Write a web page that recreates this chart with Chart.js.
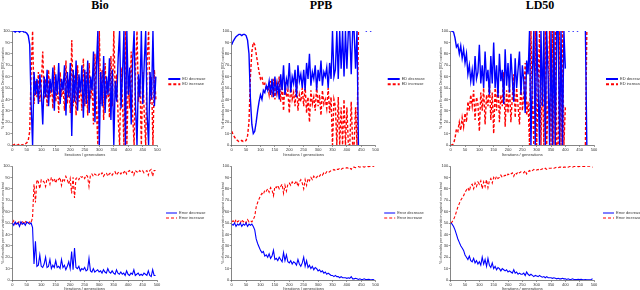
<!DOCTYPE html>
<html>
<head>
<meta charset="utf-8">
<script src="https://cdn.jsdelivr.net/npm/chart.js@4.4.1/dist/chart.umd.min.js"></script>
<style>
  html, body { margin: 0; padding: 0; background: #fff; width: 640px; height: 290px; overflow: hidden; position: relative; }
  canvas { position: absolute; }
  .ttl { position: absolute; top: -1px; font: bold 12px/12px "Liberation Serif", "Times New Roman", serif; color: #000; transform: translateX(-50%); white-space: nowrap; }
</style>
</head>
<body>
<div class="ttl" style="left:100px">Bio</div>
<div class="ttl" style="left:321px">PPB</div>
<div class="ttl" style="left:540px">LD50</div>
<canvas id="bioTop"></canvas>
<canvas id="ppbTop"></canvas>
<canvas id="ld50Top"></canvas>
<canvas id="bioBot"></canvas>
<canvas id="ppbBot"></canvas>
<canvas id="ld50Bot"></canvas>
<script>
// one value every 5 iterations (0 .. 495)
const STEP = 5;

const topLegend = ["ED decrease", "ED increase"];
const botLegend = ["Error decrease", "Error increase"];
const topYTitle = "% of models per Ensemble Deviation (ED) variation";
const botYTitle = "% of models per error variation against no-ens best";
const xTitle = "Iterations / generations";

// --- top row: ED variation ---
const bioEdDec = [
  100,100,99,100,100,99,100,100,99,99,
  98,96,88,35,0,64,44,58,36,62,
  46,18,60,42,66,34,58,46,68,30,
  62,44,72,36,58,48,70,26,64,42,
  72,8,66,38,74,30,62,46,70,24,
  66,36,74,28,60,48,82,20,68,100,
  0,64,34,78,28,60,44,76,22,66,
  0,56,38,76,100,32,62,100,0,100,
  44,68,18,74,100,34,0,62,42,100,
  36,72,100,26,0,64,40,100,34,60
];
const bioEdInc = [
  0,0,1,0,0,1,0,0,1,1,
  2,4,12,65,100,36,56,42,64,38,
  54,82,40,58,34,66,42,54,32,70,
  38,56,28,64,42,52,30,74,36,58,
  28,92,34,62,26,70,38,54,30,76,
  34,64,26,72,40,52,18,80,32,0,
  100,36,66,22,72,40,56,24,78,34,
  100,44,62,24,0,68,38,0,100,0,
  56,32,82,26,0,66,100,38,58,0,
  64,28,0,74,100,36,60,0,66,40
];
const ppbEdDec = [
  88,91,93,95,96,97,97,96,97,97,
  96,92,80,40,18,10,12,20,30,38,
  44,40,48,46,52,48,56,44,58,42,
  60,46,54,40,62,48,70,44,58,52,
  72,46,60,54,66,42,70,56,62,50,
  66,48,72,58,80,52,64,58,70,48,
  66,56,74,52,64,60,68,50,72,58,
  100,60,66,100,58,100,67,100,60,100,
  67,100,100,62,100,100,67,100,0,null,
  null,null,null,100,100,null,100,100,null,null
];
const ppbEdInc = [
  12,9,7,5,4,3,3,4,3,3,
  4,8,20,60,82,90,88,80,72,64,
  58,60,52,54,48,52,44,56,42,58,
  40,54,46,60,38,52,30,56,42,48,
  28,54,40,46,34,58,30,44,38,50,
  34,52,28,42,20,48,36,42,30,52,
  34,44,26,48,36,40,32,50,28,42,
  0,40,34,0,42,0,33,0,40,0,
  33,0,0,38,0,0,33,0,100,null,
  null,null,null,null,null,null,null,null,null,null
];
const ld50EdDec = [
  100,100,99,94,86,88,80,87,76,84,
  72,80,62,70,56,66,52,78,58,64,
  88,54,70,50,82,56,66,44,78,54,
  90,50,70,42,80,56,66,36,84,52,
  72,46,80,58,38,76,50,66,82,44,
  70,56,28,74,62,100,0,62,100,0,
  100,50,0,100,34,100,0,100,60,0,
  100,0,100,0,100,100,0,100,0,100,
  67,null,100,100,null,100,100,null,100,100,
  null,null,null,null,100,0,null,null,null,null
];
const ld50EdInc = [
  0,0,1,6,14,12,20,13,24,16,
  28,20,38,30,44,34,48,22,42,36,
  12,46,30,50,18,44,34,56,22,46,
  10,50,30,58,20,44,34,64,16,48,
  28,54,20,42,62,24,50,34,18,56,
  30,44,72,26,38,0,100,38,0,100,
  0,50,100,0,66,0,100,0,40,100,
  0,100,0,100,0,0,100,0,100,0,
  33,null,null,null,null,null,null,null,null,null,
  null,null,null,null,0,100,null,null,null,null
];

// --- bottom row: error variation ---
const bioErrDec = [
  50,48,51,49,50,47,51,49,50,48,
  51,50,49,50,46,14,34,12,13,22,
  12,11,14,20,11,12,18,10,13,11,
  17,11,12,10,18,11,13,9,12,16,
  10,25,9,28,11,10,12,8,10,9,
  11,8,9,19,8,7,10,7,8,9,
  7,8,6,9,7,6,10,7,6,8,
  6,5,9,6,5,7,5,6,4,8,
  5,4,6,5,9,4,5,6,4,5,
  4,6,5,4,8,4,3,9,4,4
];
const bioErrInc = [
  50,52,49,51,50,52,49,51,50,52,
  49,50,51,50,55,84,68,88,86,80,
  88,87,86,82,89,88,84,90,87,89,
  85,89,88,90,83,89,87,91,88,84,
  89,76,90,72,89,90,88,91,90,91,
  89,92,91,82,92,93,91,93,92,91,
  93,92,94,91,93,94,91,93,94,92,
  94,95,92,94,95,93,95,94,96,93,
  95,96,94,95,92,96,95,94,96,95,
  96,94,95,96,92,96,97,91,96,96
];
const ppbErrDec = [
  49,48,50,47,49,48,50,47,49,48,
  50,47,49,48,49,47,44,36,32,29,
  26,24,25,21,22,20,23,19,21,26,
  18,19,17,20,18,16,24,17,22,16,
  15,17,14,16,15,13,18,14,12,15,
  20,12,17,11,13,10,12,9,11,10,
  8,9,7,8,6,7,5,6,5,4,
  4,3,4,3,3,2,3,2,2,2,
  1.5,2,1.5,3,1,1,1.5,1,0.5,1,
  0.5,0.5,1,0.5,0.3,0.5,0.3,0.2,0.3,0.2
];
const ppbErrInc = [
  51,52,50,53,51,52,50,53,51,52,
  50,53,51,52,51,53,56,64,68,71,
  74,76,75,79,78,80,77,81,79,74,
  82,81,83,80,82,84,76,83,78,84,
  85,83,86,84,85,87,82,86,88,85,
  80,88,83,89,87,90,88,91,89,90,
  92,91,93,92,94,93,95,94,95,96,
  96,97,96,97,97,98,97,98,98,98,
  98.5,98,98.5,97,99,99,98.5,99,99.5,99,
  99.5,99.5,99,99.5,99.7,99.5,99.7,99.8,99.7,99.8
];
const ld50ErrDec = [
  50,49,47,44,40,36,33,30,28,26,
  22,20,18,21,17,16,19,15,17,14,
  16,13,20,14,18,12,19,13,11,15,
  10,12,9,11,10,8,10,9,8,9,
  7,8,7,6,9,6,7,5,6,5,
  5,6,4,7,5,4,5,4,3,4,
  3.5,3,4,3,2.5,3,2,3,2,2,
  2,1.5,2,1.5,1,1.5,1,1,1.5,1,
  1,0.5,1,0.5,0.5,1,0.5,0.5,0.3,0.5,
  0.3,0.5,0.3,0.2,0.3,0.2,0.2,0.1,0.5,1
];
const ld50ErrInc = [
  50,51,53,56,60,64,67,70,72,74,
  77,79,81,78,83,84,80,85,82,86,
  84,87,80,86,82,88,81,87,89,85,
  90,88,91,89,90,92,90,91,92,91,
  93,92,93,94,91,94,93,95,94,95,
  95,94,96,93,95,96,95,96,97,96,
  96.5,97,96,97,97.5,97,98,97,98,98,
  98,98.5,98,98.5,99,98.5,99,99,98.5,99,
  99,99.5,99,99.5,99.5,99,99.5,99.5,99.7,99.5,
  99.7,99.5,99.7,99.8,99.7,99.8,99.8,99.9,99.5,99
];

const pts = arr => arr.map((v, i) => ({ x: i * STEP, y: v }));

Chart.defaults.font.family = '"Liberation Sans", Arial, sans-serif';
Chart.defaults.color = "#333";

// small MATLAB-like legend to the right of the axes
const sideLegend = {
  id: "sideLegend",
  afterDraw(chart, args, o) {
    const ctx = chart.ctx, a = chart.chartArea;
    chart.data.datasets.forEach((ds, i) => {
      const x = a.right + o.dx, y = a.top + o.dy + i * o.gap;
      ctx.save();
      ctx.strokeStyle = ds.borderColor;
      ctx.lineWidth = o.lw;
      ctx.setLineDash(ds.borderDash || []);
      ctx.beginPath(); ctx.moveTo(x, y); ctx.lineTo(x + o.len, y); ctx.stroke();
      ctx.setLineDash([]);
      ctx.fillStyle = "#333";
      ctx.font = '4px "Liberation Sans", Arial, sans-serif';
      ctx.textBaseline = "middle";
      ctx.fillText(ds.label, x + o.len + 2, y);
      ctx.restore();
    });
  }
};

const panels = [
  { id: "bioTop",  left: 0,   right: 214, top: 20,  bottom: 157, pl: 12.3,  pr: 157.3, pt: 31,  pb: 145, dec: bioEdDec,  inc: bioEdInc,  names: topLegend, yt: topYTitle, lw: 1.4, lg: { dx: 11, dy: 48, gap: 5.3, len: 12, lw: 2 } },
  { id: "ppbTop",  left: 220, right: 430, top: 20,  bottom: 157, pl: 231.7, pr: 375.7, pt: 31,  pb: 145, dec: ppbEdDec,  inc: ppbEdInc,  names: topLegend, yt: topYTitle, lw: 1.4, lg: { dx: 12, dy: 48, gap: 5.3, len: 12, lw: 2 } },
  { id: "ld50Top", left: 438, right: 640, top: 20,  bottom: 157, pl: 450.7, pr: 594,   pt: 31,  pb: 145, dec: ld50EdDec, inc: ld50EdInc, names: topLegend, yt: topYTitle, lw: 1.4, lg: { dx: 12, dy: 48, gap: 5.3, len: 12, lw: 2 } },
  { id: "bioBot",  left: 0,   right: 214, top: 158, bottom: 291, pl: 12.3,  pr: 157,   pt: 166, pb: 280, dec: bioErrDec, inc: bioErrInc, names: botLegend, yt: botYTitle, lw: 1.1, lg: { dx: 9,  dy: 47, gap: 5, len: 11, lw: 1 } },
  { id: "ppbBot",  left: 220, right: 430, top: 158, bottom: 291, pl: 231.7, pr: 375.7, pt: 166, pb: 280, dec: ppbErrDec, inc: ppbErrInc, names: botLegend, yt: botYTitle, lw: 1.1, lg: { dx: 8.5, dy: 47, gap: 5, len: 11, lw: 1 } },
  { id: "ld50Bot", left: 438, right: 640, top: 158, bottom: 291, pl: 450.7, pr: 594,   pt: 166, pb: 280, dec: ld50ErrDec, inc: ld50ErrInc, names: botLegend, yt: botYTitle, lw: 1.1, lg: { dx: 9,  dy: 47, gap: 5, len: 11, lw: 1 } },
];

function draw(p) {
  const cv = document.getElementById(p.id);
  cv.width = p.right - p.left;
  cv.height = p.bottom - p.top;
  cv.style.left = p.left + "px";
  cv.style.top = p.top + "px";
  new Chart(cv, {
    type: "line",
    data: {
      datasets: [
        { label: p.names[0], data: pts(p.dec), borderColor: "#0000ff", borderWidth: p.lw },
        { label: p.names[1], data: pts(p.inc), borderColor: "#ff0000", borderWidth: p.lw, borderDash: [3, 2] },
      ],
    },
    options: {
      responsive: false, animation: false, devicePixelRatio: 1,
      spanGaps: false,
      elements: { point: { radius: 0 }, line: { tension: 0, fill: false } },
      layout: { padding: { left: 0, top: p.pt - p.top, right: p.right - p.pr, bottom: 0 } },
      scales: {
        x: {
          type: "linear", min: 0, max: 500,
          ticks: { stepSize: 50, autoSkip: false, maxRotation: 0, padding: 0.5, font: { size: 4 }, color: "#333" },
          grid: { drawOnChartArea: false, tickLength: 2, color: "#333", lineWidth: 0.5 },
          border: { color: "#333", width: 0.6 },
          title: { display: true, text: xTitle, font: { size: 4 }, padding: 0, color: "#333" },
          afterFit: s => { s.height = p.bottom - p.pb; },
        },
        y: {
          min: 0, max: 100,
          ticks: { stepSize: 10, padding: 0.5, font: { size: 4 }, color: "#333" },
          grid: { drawOnChartArea: false, tickLength: 2, color: "#333", lineWidth: 0.5 },
          border: { color: "#333", width: 0.6 },
          title: { display: true, text: p.yt, font: { size: 3.6 }, padding: 1, color: "#333" },
          afterFit: s => { s.width = p.pl - p.left; },
        },
      },
      plugins: {
        legend: { display: false },
        tooltip: { enabled: false },
        sideLegend: p.lg,
      },
    },
    plugins: [sideLegend],
  });
}

panels.forEach(draw);
</script>
</body>
</html>
